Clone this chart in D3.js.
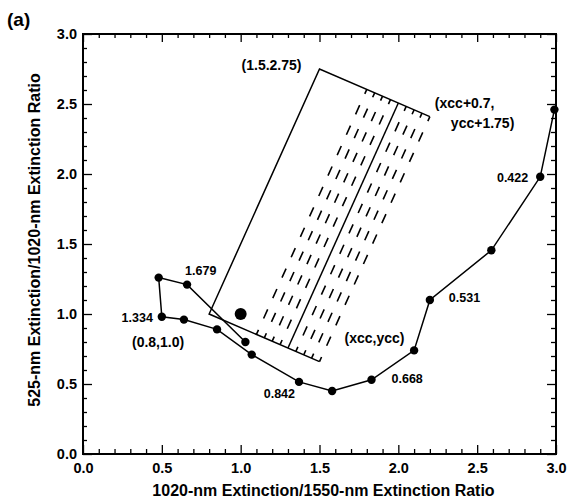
<!DOCTYPE html>
<html>
  <head>
    <meta charset="utf-8" />
    <title>Extinction ratio plot (a)</title>
    <style>
      body { margin: 0; background: #fff; }
      svg text {
        font-family: "Liberation Sans", Arial, Helvetica, sans-serif;
        font-weight: bold;
        fill: #000;
      }
    </style>
  </head>
  <body>
    <div id="chart"></div>
    <script src="https://d3js.org/d3.v7.min.js"></script>
    <script>
      // model curve
      var curveX = [2.99, 2.90, 2.59, 2.20, 2.10, 1.83, 1.58, 1.37, 1.07, 0.85, 0.64, 0.50, 0.48, 0.66, 1.03];
      var curveY = [2.46, 1.98, 1.455, 1.10, 0.74, 0.53, 0.45, 0.515, 0.71, 0.89, 0.96, 0.98, 1.26, 1.21, 0.80];
      // labels on some of the curve points: index into curve, text
      var pointLabelIdx = [1, 3, 5, 7, 11, 13];
      var pointLabelText = ["0.422", "0.531", "0.668", "0.842", "1.334", "1.679"];

      // the box construction
      var cornerX = 0.8, cornerY = 1.0;
      var xcc = 1.5, ycc = 0.66;
      var shiftX = 0.7, shiftY = 1.75;
      var dashX = [1.1, 1.15, 1.2, 1.25, 1.35, 1.4, 1.45, 1.5];
      var solidX = 1.3;
      var bigDot = [1.0, 1.0];

      var xTicks = [0.0, 0.5, 1.0, 1.5, 2.0, 2.5, 3.0];
      var yTicks = [0.0, 0.5, 1.0, 1.5, 2.0, 2.5, 3.0];

      var W = 573, H = 501;
      var margin = { top: 34, right: 17, bottom: 47, left: 83 },
        width = W - margin.left - margin.right,
        height = H - margin.top - margin.bottom;

      var svg = d3.select("#chart").append("svg")
        .attr("width", W).attr("height", H);

      var g = svg.append("g")
        .attr("transform", "translate(" + margin.left + "," + margin.top + ")");

      var x = d3.scaleLinear().domain([0, 3]).range([0, width]);
      var y = d3.scaleLinear().domain([0, 3]).range([height, 0]);

      var minor = d3.range(0, 3.001, 0.1).filter(function (d) {
        return Math.abs(d * 2 - Math.round(d * 2)) > 1e-6;
      });

      function styleAxis(sel) {
        sel.select(".domain").remove();
        sel.selectAll("line").attr("stroke", "#000").attr("stroke-width", 1.3);
        sel.selectAll("text").style("font-size", "14.5px");
      }

      // bottom
      g.append("g").attr("transform", "translate(0," + height + ")")
        .call(d3.axisBottom(x).tickValues(xTicks).tickFormat(d3.format(".1f"))
          .tickSizeInner(-9).tickSizeOuter(0).tickPadding(9))
        .call(styleAxis);
      g.append("g").attr("transform", "translate(0," + height + ")")
        .call(d3.axisBottom(x).tickValues(minor).tickFormat("").tickSizeInner(-5).tickSizeOuter(0))
        .call(styleAxis);
      // top
      g.append("g")
        .call(d3.axisTop(x).tickValues(xTicks).tickFormat("").tickSizeInner(-8).tickSizeOuter(0))
        .call(styleAxis);
      g.append("g")
        .call(d3.axisTop(x).tickValues(minor).tickFormat("").tickSizeInner(-4).tickSizeOuter(0))
        .call(styleAxis);
      // left
      g.append("g")
        .call(d3.axisLeft(y).tickValues(yTicks).tickFormat(d3.format(".1f"))
          .tickSizeInner(-9).tickSizeOuter(0).tickPadding(6))
        .call(styleAxis);
      g.append("g")
        .call(d3.axisLeft(y).tickValues(minor).tickFormat("").tickSizeInner(-4).tickSizeOuter(0))
        .call(styleAxis);
      // right
      g.append("g").attr("transform", "translate(" + width + ",0)")
        .call(d3.axisRight(y).tickValues(yTicks).tickFormat("").tickSizeInner(-9).tickSizeOuter(0))
        .call(styleAxis);
      g.append("g").attr("transform", "translate(" + width + ",0)")
        .call(d3.axisRight(y).tickValues(minor).tickFormat("").tickSizeInner(-5).tickSizeOuter(0))
        .call(styleAxis);

      // frame
      g.append("rect")
        .attr("width", width).attr("height", height)
        .attr("fill", "none").attr("stroke", "#000").attr("stroke-width", 2);

      // axis titles
      svg.append("text")
        .attr("x", margin.left + width / 2 + 4).attr("y", 496)
        .attr("text-anchor", "middle").style("font-size", "16px")
        .text("1020-nm Extinction/1550-nm Extinction Ratio");
      svg.append("text")
        .attr("transform", "translate(40," + (margin.top + height / 2 - 4) + ") rotate(-90)")
        .attr("text-anchor", "middle").style("font-size", "16px")
        .text("525-nm Extinction/1020-nm Extinction Ratio");
      svg.append("text")
        .attr("x", 7).attr("y", 26).style("font-size", "19px")
        .text("(a)");

      // box construction
      function bottomY(xv) {
        return cornerY + (ycc - cornerY) * (xv - cornerX) / (xcc - cornerX);
      }
      var line = d3.line().x(function (d) { return x(d[0]); }).y(function (d) { return y(d[1]); });

      g.append("path")
        .attr("d", line([
          [xcc, ycc],
          [cornerX, cornerY],
          [cornerX + shiftX, cornerY + shiftY],
          [xcc + shiftX, ycc + shiftY]
        ]))
        .attr("fill", "none").attr("stroke", "#000").attr("stroke-width", 1.5);

      g.append("path")
        .attr("d", line([
          [solidX, bottomY(solidX)],
          [solidX + shiftX, bottomY(solidX) + shiftY]
        ]))
        .attr("fill", "none").attr("stroke", "#000").attr("stroke-width", 1.5);

      g.selectAll(".dash").data(dashX).enter().append("path")
        .attr("class", "dash")
        .attr("d", function (d) {
          return line([[d, bottomY(d)], [d + shiftX, bottomY(d) + shiftY]]);
        })
        .attr("fill", "none").attr("stroke", "#000").attr("stroke-width", 1.6)
        .attr("stroke-dasharray", "10,12.4").attr("stroke-dashoffset", 5);

      // curve
      var pts = curveX.map(function (d, i) { return [d, curveY[i]]; });
      g.append("path")
        .attr("d", line(pts))
        .attr("fill", "none").attr("stroke", "#000").attr("stroke-width", 1.5);
      g.selectAll(".pt").data(pts).enter().append("circle")
        .attr("class", "pt")
        .attr("cx", function (d) { return x(d[0]); })
        .attr("cy", function (d) { return y(d[1]); })
        .attr("r", 4.2).attr("fill", "#000");

      g.append("circle")
        .attr("cx", x(bigDot[0])).attr("cy", y(bigDot[1]))
        .attr("r", 6).attr("fill", "#000");

      // point labels
      var labelOffset = [
        { dx: -12, dy: 5, a: "end" },
        { dx: 19, dy: 2, a: "start" },
        { dx: 20, dy: 3, a: "start" },
        { dx: -4, dy: 16, a: "end" },
        { dx: -9, dy: 5, a: "end" },
        { dx: -2, dy: -10, a: "start" }
      ];
      pointLabelIdx.forEach(function (idx, i) {
        var o = labelOffset[i];
        g.append("text")
          .attr("x", x(curveX[idx]) + o.dx).attr("y", y(curveY[idx]) + o.dy)
          .attr("text-anchor", o.a).style("font-size", "12.5px")
          .text(pointLabelText[i]);
      });

      // corner labels
      function cornerLabel(px, py, dx, dy, anchor, txt) {
        g.append("text")
          .attr("x", x(px) + dx).attr("y", y(py) + dy)
          .attr("text-anchor", anchor).style("font-size", "14px")
          .text(txt);
      }
      cornerLabel(cornerX + shiftX, cornerY + shiftY, -18, 1, "end", "(1.5.2.75)");
      cornerLabel(cornerX, cornerY, -25, 33, "end", "(0.8,1.0)");
      cornerLabel(xcc, ycc, 25, -19, "start", "(xcc,ycc)");
      cornerLabel(xcc + shiftX, ycc + shiftY, 5, -9, "start", "(xcc+0.7,");
      cornerLabel(xcc + shiftX, ycc + shiftY, 21, 11, "start", "ycc+1.75)");
    </script>
  </body>
</html>
